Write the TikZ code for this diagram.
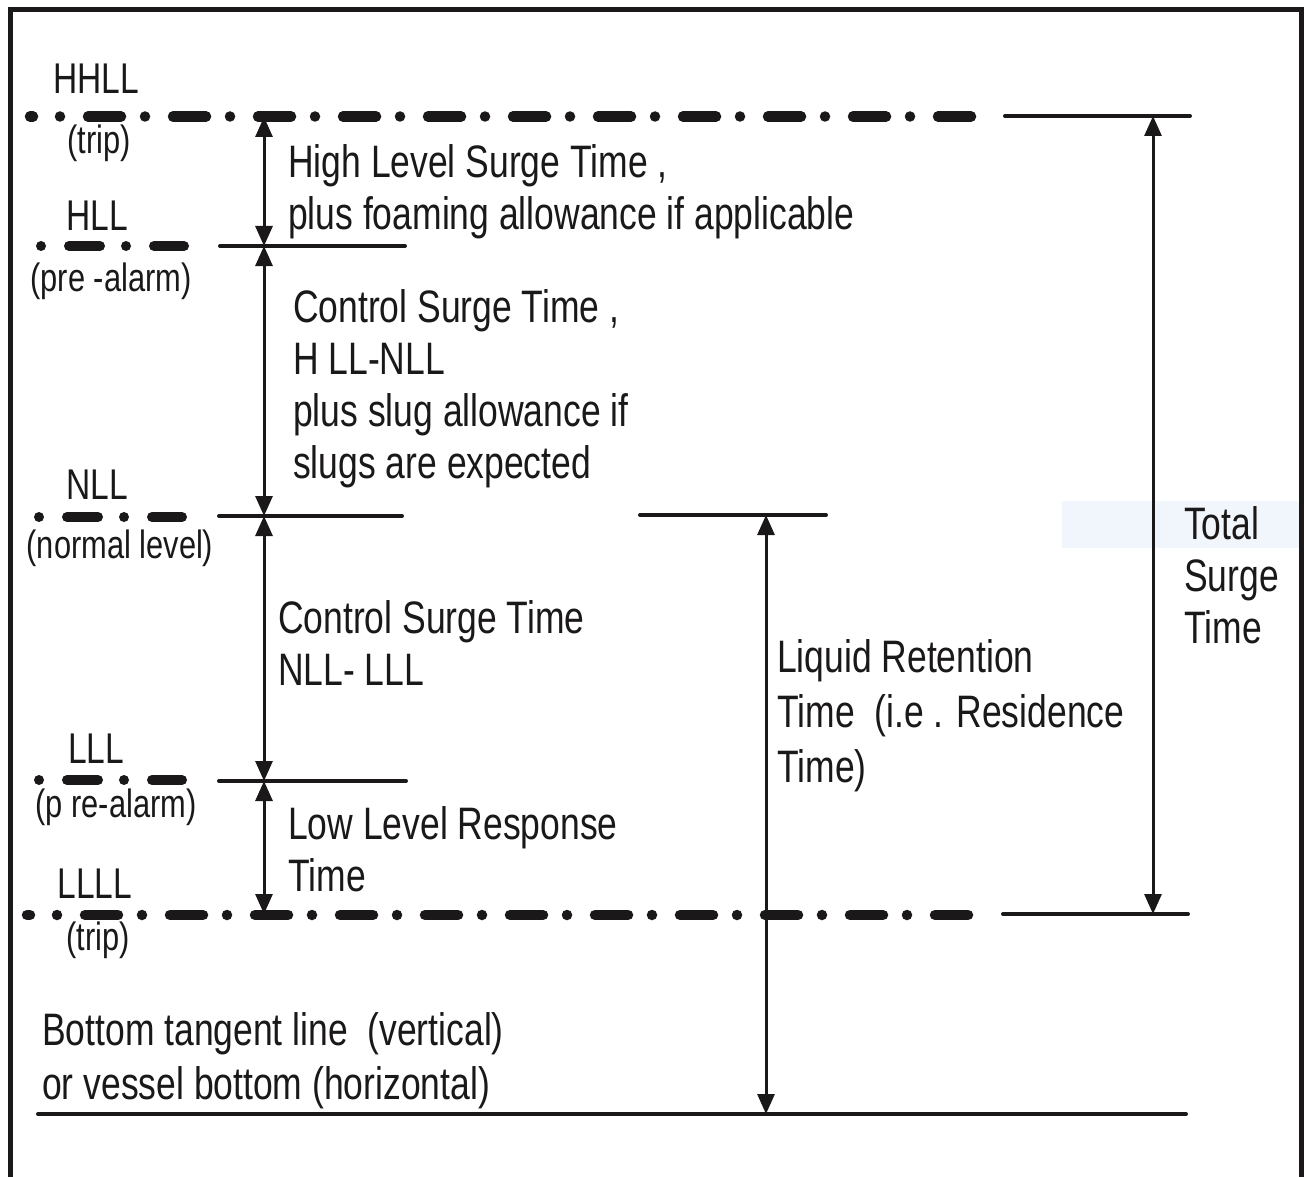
\documentclass[tikz,border=0pt]{standalone}
\usepackage{fontspec}
\setmainfont{Liberation Sans}[FakeStretch=0.78]
\usetikzlibrary{arrows.meta}
\definecolor{ink}{HTML}{1A1818}
\definecolor{ghostbg}{HTML}{F1F6FC}
\tikzset{
  frameline/.style={draw=ink, line width=5pt},
  solidlevel/.style={draw=ink, line width=4pt, line cap=round},
  longdashdot/.style={draw=ink, line width=10.5pt, line cap=round, dash pattern=on 0pt off 28pt on 33pt off 24pt},
  shortdashdot/.style={draw=ink, line width=10pt, line cap=round, dash pattern=on 0pt off 28pt on 31pt off 26pt},
  firstdash/.style={draw=ink, line width=10.5pt, line cap=round},
  dimarrow/.style={draw=ink, line width=3pt, {Triangle[length=20pt,width=17pt]}-{Triangle[length=20pt,width=17pt]}},
  bodytext/.style={text=ink, inner sep=0pt, align=left, anchor=north west, font=\fontsize{45.5}{52}\selectfont},
  leveltext/.style={text=ink, inner sep=0pt, font=\fontsize{43}{50}\selectfont},
  subtext/.style={text=ink, inner sep=0pt, font=\fontsize{39.5}{45}\selectfont},
}
\begin{document}
\begin{tikzpicture}[x=1pt, y=-1pt]
\useasboundingbox (0,0) rectangle (1304,1177);
\fill[white] (0,0) rectangle (1304,1177);

% faint tooltip background (screenshot artefact)
\fill[ghostbg] (1062,501) rectangle (1304,548);

% frame
\draw[frameline] (10,1177) -- (10,9.5) -- (1301.5,9.5) -- (1301.5,1177);

% HHLL line
\draw[firstdash] (30,116.5) -- (33,116.5);
\draw[longdashdot] (60,116.5) -- (971,116.5);
\draw[solidlevel] (1005,116) -- (1190,116);

% HLL line
\draw[shortdashdot] (41,246) -- (184,246);
\draw[solidlevel] (220,246) -- (405,246);

% NLL line
\draw[shortdashdot] (39,517) -- (182,517);
\draw[solidlevel] (219,516) -- (402,516);
\draw[solidlevel] (640,515) -- (826,515);

% LLL line
\draw[shortdashdot] (39,780) -- (182,780);
\draw[solidlevel] (219,781) -- (406,781);

% LLLL line
\draw[firstdash] (27,915) -- (30,915);
\draw[longdashdot] (57,915) -- (968,915);
\draw[solidlevel] (1003,914) -- (1188,914);

% bottom line
\draw[solidlevel] (38,1114) -- (1186,1114);

% coordinates for dimension arrows
\coordinate (ahh) at (264,117);
\coordinate (ah) at (264,246);
\coordinate (an) at (264,516);
\coordinate (al) at (264,781);
\coordinate (all) at (264,914);
\coordinate (rtop) at (766,515);
\coordinate (rbot) at (766,1114);
\coordinate (ttop) at (1153,116);
\coordinate (tbot) at (1153,914);

\draw[dimarrow] (ahh) -- (ah);
\draw[dimarrow] (ah) -- (an);
\draw[dimarrow] (an) -- (al);
\draw[dimarrow] (al) -- (all);
\draw[dimarrow] (rtop) -- (rbot);
\draw[dimarrow] (ttop) -- (tbot);

% level labels
\node[leveltext] (lhhll) at (96,79) {HHLL};
\node[subtext] (strip1) at (99,143) {(trip)};
\node[leveltext] (lhll) at (97,216) {HLL};
\node[subtext] (sprea) at (111,281) {(pre -alarm)};
\node[leveltext] (lnll) at (97,485) {NLL};
\node[subtext] (snorm) at (120,548) {(normal level)};
\node[leveltext] (llll) at (96,749) {LLL};
\node[subtext] (spreb) at (116,807) {(p re-alarm)};
\node[leveltext] (lllll) at (95,884) {LLLL};
\node[subtext] (strip2) at (98,940) {(trip)};

% descriptive texts
\node[bodytext] (thigh) at (288,144) {High Level Surge Time ,\\plus foaming allowance if applicable};
\node[bodytext] (tcs1) at (293,289) {Control Surge Time ,\\H LL-NLL\\plus slug allowance if\\slugs are expected};
\node[bodytext] (tcs2) at (278,600) {Control Surge Time\\NLL- LLL};
\node[bodytext] (tlow) at (288,806) {Low Level Response\\Time};
\node[bodytext, font=\fontsize{45.5}{55}\selectfont] (tret) at (777,639) {Liquid Retention\\Time\ \ (i.e . Residence\\Time)};
\node[bodytext] (ttot) at (1184,506) {Total\\Surge\\Time};
\node[bodytext, font=\fontsize{45.5}{54}\selectfont] (tbot) at (42,1012) {Bottom tangent line\ \ (vertical)\\or vessel bottom (horizontal)};
\end{tikzpicture}
\end{document}
